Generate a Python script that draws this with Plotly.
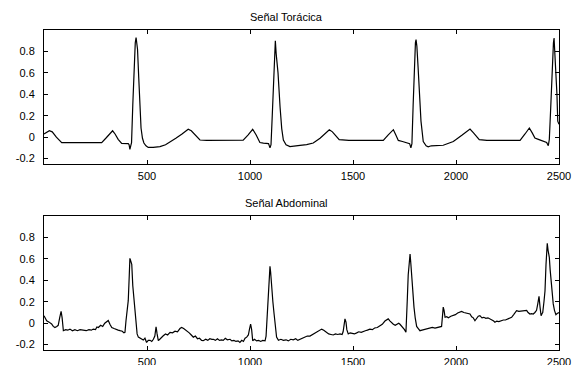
import plotly.graph_objects as go

# ---- Data ----
thor_x = [0, 15, 26, 40, 60, 86, 110, 140, 170, 200, 230, 260, 280, 300, 333, 345, 360, 377, 395, 409, 413, 417, 421, 425,
          431, 438, 443, 447, 450, 454, 460, 466, 471, 478, 485, 495, 506, 530, 563, 590, 612, 640, 670, 700, 715, 735,
          757, 790, 838, 880, 930, 967, 990, 1013, 1030, 1048, 1065, 1081, 1090, 1097, 1102, 1108, 1115, 1120, 1123,
          1127, 1136, 1146, 1154, 1162, 1175, 1194, 1220, 1243, 1275, 1307, 1340, 1365, 1385, 1400, 1415, 1433, 1480,
          1534, 1590, 1647, 1670, 1696, 1708, 1720, 1740, 1760, 1775, 1781, 1786, 1792, 1798, 1803, 1806, 1810, 1816,
          1822, 1830, 1841, 1855, 1865, 1880, 1938, 1987, 2030, 2068, 2085, 2100, 2113, 2150, 2197, 2250, 2311, 2335,
          2356, 2370, 2383, 2400, 2416, 2440, 2448, 2453, 2459, 2465, 2469, 2473, 2476, 2480, 2485, 2490, 2494, 2500]
thor_y = [0.03, 0.05, 0.06, 0.05, 0.0, -0.05, -0.05, -0.055, -0.05, -0.052, -0.05, -0.052, -0.05, -0.01, 0.06, 0.03,
          -0.02, -0.057, -0.06, -0.06, -0.07, -0.113, -0.08, -0.05, 0.3, 0.74, 0.88, 0.93, 0.86, 0.82, 0.55, 0.3, 0.086,
          -0.01, -0.054, -0.08, -0.095, -0.095, -0.088, -0.07, -0.04, -0.01, 0.03, 0.074, 0.06, 0.02, -0.026, -0.03,
          -0.03, -0.028, -0.03, -0.028, 0.02, 0.074, 0.02, -0.05, -0.055, -0.06, -0.06, -0.10, -0.07, 0.2, 0.6, 0.85,
          0.90, 0.78, 0.6, 0.28, 0.08, -0.026, -0.07, -0.088, -0.085, -0.076, -0.07, -0.054, -0.01, 0.04, 0.07, 0.05,
          0.02, -0.023, -0.03, -0.03, -0.028, -0.03, 0.02, 0.07, 0.02, -0.03, -0.04, -0.054, -0.06, -0.10, -0.06, 0.3,
          0.7, 0.88, 0.91, 0.85, 0.65, 0.40, 0.15, -0.04, -0.08, -0.09, -0.08, -0.075, -0.04, 0.02, 0.076, 0.04, 0.0,
          -0.023, -0.03, -0.03, -0.032, -0.03, 0.03, 0.086, 0.04, -0.007, -0.02, -0.03, -0.05, -0.08, -0.02, 0.24, 0.6,
          0.77, 0.88, 0.925, 0.8, 0.61, 0.4, 0.15, 0.12]

abd_x = [0, 6, 13, 25, 37, 45, 53, 62, 69, 76, 83, 88, 94, 105, 115, 126, 138, 150, 162, 175, 191, 205, 218, 230, 239,
         250, 257, 264, 275, 285, 295, 304, 312, 320, 329, 340, 350, 360, 369, 380, 388, 393, 398, 404, 409, 414, 417,
         421, 426, 431, 437, 442, 447, 452, 458, 465, 472, 482, 490, 498, 506, 515, 523, 531, 538, 544, 549, 555, 562,
         570, 579, 590, 600, 612, 624, 636, 648, 660, 668, 678, 686, 693, 705, 715, 725, 735, 745, 755, 765, 773, 785,
         795, 805, 815, 822, 832, 842, 852, 862, 870, 880, 890, 903, 912, 922, 932, 942, 951, 960, 968, 976, 984, 992,
         998, 1003, 1008, 1013, 1022, 1032, 1042, 1052, 1062, 1073, 1078, 1084, 1088, 1092, 1095, 1097, 1100, 1105,
         1111, 1117, 1123, 1129, 1138, 1150, 1162, 1175, 1186, 1198, 1210, 1222, 1232, 1243, 1255, 1265, 1278, 1291,
         1300, 1312, 1324, 1336, 1348, 1358, 1372, 1382, 1393, 1404, 1415, 1426, 1437, 1447, 1452, 1457, 1461, 1466,
         1470, 1477, 1486, 1496, 1507, 1518, 1528, 1540, 1550, 1560, 1570, 1582, 1594, 1605, 1618, 1631, 1642, 1655,
         1665, 1671, 1680, 1688, 1696, 1705, 1714, 1722, 1728, 1736, 1744, 1750, 1757, 1761, 1764, 1768, 1773, 1777,
         1781, 1786, 1791, 1796, 1802, 1809, 1817, 1825, 1835, 1845, 1858, 1868, 1874, 1885, 1898, 1910, 1922, 1930,
         1935, 1938, 1942, 1947, 1955, 1963, 1975, 1987, 1997, 2008, 2018, 2027, 2038, 2048, 2058, 2068, 2076, 2084,
         2092, 2100, 2108, 2116, 2126, 2135, 2145, 2155, 2165, 2175, 2183, 2189, 2198, 2208, 2220, 2230, 2240, 2250,
         2260, 2270, 2280, 2288, 2294, 2305, 2318, 2330, 2343, 2350, 2359, 2367, 2375, 2383, 2391, 2397, 2403, 2408,
         2413, 2418, 2421, 2427, 2432, 2437, 2441, 2443, 2447, 2453, 2457, 2461, 2466, 2472, 2478, 2485, 2491, 2496,
         2500]
abd_y = [0.07, 0.04, 0.023, 0.01, -0.007, -0.03, -0.04, -0.03, -0.02, 0.05, 0.11, 0.05, -0.07, -0.06, -0.065, -0.055,
         -0.07, -0.06, -0.07, -0.06, -0.065, -0.07, -0.06, -0.065, -0.055, -0.06, -0.035, -0.04, -0.02, -0.03, 0.0,
         0.017, 0.025, -0.01, -0.04, -0.05, -0.06, -0.065, -0.07, -0.075, -0.09, -0.085, 0.023, 0.12, 0.21, 0.45,
         0.605, 0.58, 0.55, 0.35, 0.21, 0.05, -0.04, -0.10, -0.13, -0.14, -0.15, -0.157, -0.14, -0.18, -0.16, -0.16,
         -0.17, -0.15, -0.12, -0.033, -0.1, -0.163, -0.15, -0.13, -0.117, -0.1, -0.11, -0.085, -0.09, -0.075, -0.08,
         -0.05, -0.04, -0.05, -0.06, -0.07, -0.09, -0.11, -0.13, -0.12, -0.145, -0.14, -0.16, -0.163, -0.15, -0.16,
         -0.145, -0.15, -0.15, -0.16, -0.145, -0.16, -0.155, -0.16, -0.14, -0.155, -0.15, -0.165, -0.16, -0.17, -0.165,
         -0.18, -0.16, -0.17, -0.14, -0.13, -0.11, -0.05, -0.008, -0.06, -0.163, -0.15, -0.165, -0.16, -0.17, -0.16,
         -0.165, -0.12, 0.086, 0.25, 0.40, 0.5, 0.53, 0.48, 0.30, 0.2, 0.086, -0.05, -0.13, -0.16, -0.15, -0.16,
         -0.155, -0.165, -0.15, -0.155, -0.145, -0.16, -0.15, -0.14, -0.135, -0.12, -0.12, -0.11, -0.1, -0.085, -0.07,
         -0.055, -0.065, -0.09, -0.1, -0.105, -0.11, -0.1, -0.105, -0.1, -0.105, -0.08, 0.02, 0.04, 0.01, -0.06, -0.1,
         -0.09, -0.095, -0.1, -0.09, -0.08, -0.085, -0.075, -0.07, -0.065, -0.055, -0.06, -0.045, -0.04, -0.023,
         -0.01, 0.02, 0.03, 0.04, 0.02, 0.0, -0.01, -0.02, -0.005, 0.0, -0.01, -0.025, -0.04, -0.06, -0.085, 0.05,
         0.24, 0.45, 0.6, 0.645, 0.55, 0.40, 0.28, 0.15, 0.05, -0.03, -0.05, -0.07, -0.065, -0.06, -0.055, -0.05,
         -0.045, -0.04, -0.045, -0.04, -0.035, -0.03, 0.08, 0.15, 0.12, 0.055, 0.06, 0.05, 0.065, 0.07, 0.08, 0.095,
         0.1, 0.11, 0.1, 0.095, 0.09, 0.086, 0.06, 0.05, 0.023, 0.05, 0.065, 0.07, 0.05, 0.055, 0.045, 0.05, 0.04,
         0.03, 0.02, 0.008, 0.02, 0.015, 0.025, 0.03, 0.03, 0.04, 0.045, 0.055, 0.08, 0.1, 0.117, 0.11, 0.115, 0.12,
         0.12, 0.1, 0.086, 0.09, 0.086, 0.1, 0.12, 0.18, 0.25, 0.15, 0.07, 0.09, 0.1, 0.2, 0.30, 0.55, 0.74, 0.745,
         0.68, 0.615, 0.5, 0.40, 0.28, 0.18, 0.12, 0.08, 0.09, 0.095, 0.1]

x_ticks = [500, 1000, 1500, 2000, 2500]
x_tick_labels = ["500", "1000", "1500", "2000", "2500"]
y_ticks = [-0.2, 0, 0.2, 0.4, 0.6, 0.8]
y_tick_labels = ["-0.2", "0", "0.2", "0.4", "0.6", "0.8"]
titles = ["Señal Torácica", "Señal Abdominal"]

# ---- Figure ----
fig = go.Figure()
line_style = dict(color="black", width=1.2)
fig.add_trace(go.Scatter(x=thor_x, y=thor_y, mode="lines", line=line_style, xaxis="x", yaxis="y", showlegend=False))
fig.add_trace(go.Scatter(x=abd_x, y=abd_y, mode="lines", line=line_style, xaxis="x2", yaxis="y2", showlegend=False))

FONT = "Liberation Sans, Arial, sans-serif"
tick_font = dict(family=FONT, size=11, color="black")
xcommon = dict(range=[0, 2500], tickvals=x_ticks, ticktext=x_tick_labels, ticks="inside", ticklen=4,
               tickcolor="black", showline=True, linecolor="black", linewidth=1, mirror="ticks",
               showgrid=False, zeroline=False, tickfont=tick_font, automargin=False, ticklabelstandoff=2)
ycommon = dict(range=[-0.25, 1.0], tickvals=y_ticks, ticktext=y_tick_labels, ticks="inside", ticklen=4,
               tickcolor="black", showline=True, linecolor="black", linewidth=1, mirror="ticks",
               showgrid=False, zeroline=False, tickfont=tick_font, ticklabelstandoff=6, automargin=False)

fig.update_layout(
    width=574, height=365,
    margin=dict(l=44, r=15, t=30, b=15),
    paper_bgcolor="white", plot_bgcolor="white",
    xaxis=dict(domain=[0, 1], anchor="y", **xcommon),
    yaxis=dict(domain=[0.58125, 1], anchor="x", **ycommon),
    xaxis2=dict(domain=[0, 1], anchor="y2", **xcommon),
    yaxis2=dict(domain=[0, 0.41875], anchor="x2", **ycommon),
    annotations=[
        dict(text=titles[0], x=0.4718, y=1.0406, xref="paper", yref="paper", showarrow=False,
             font=dict(family=FONT, size=11, color="black"), xanchor="center", yanchor="middle"),
        dict(text=titles[1], x=0.4718, y=0.459, xref="paper", yref="paper", showarrow=False,
             font=dict(family=FONT, size=11, color="black"), xanchor="center", yanchor="middle"),
    ],
)

fig.write_html("out.html")
